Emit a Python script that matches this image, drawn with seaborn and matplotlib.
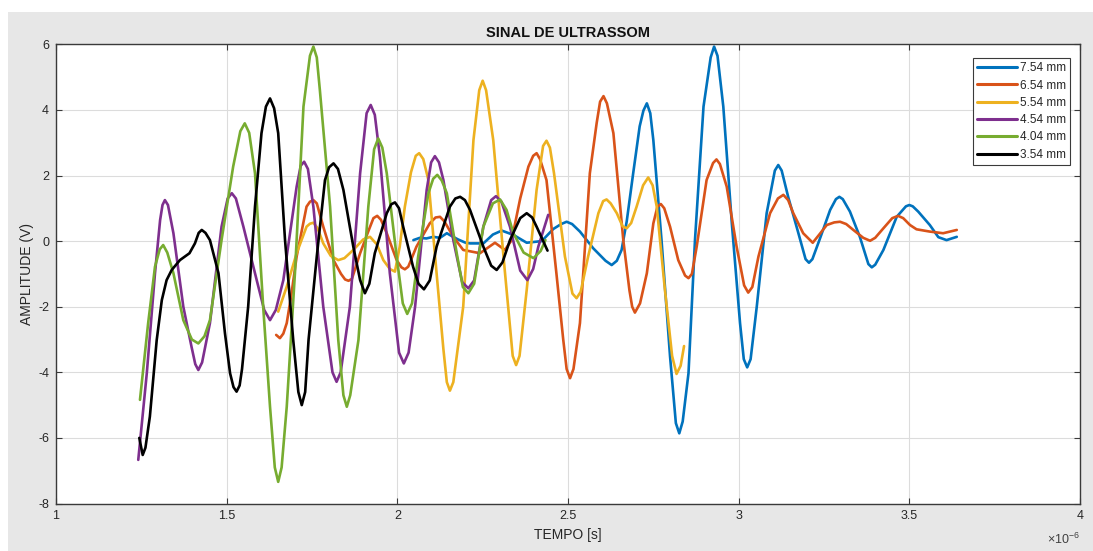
import matplotlib
matplotlib.use("Agg")
import matplotlib.pyplot as plt
from matplotlib.patches import Rectangle
from matplotlib.ticker import FuncFormatter, MultipleLocator
import seaborn as sns
import pandas as pd

# Curvas (tempo em 1e-6 s, amplitude em V)
labels = ["7.54 mm", "6.54 mm", "5.54 mm", "4.54 mm", "4.04 mm", "3.54 mm"]
colors = ["#0072BD", "#D95319", "#EDB120", "#7E2F8E", "#77AC30", "#000000"]

t_754 = [2.047, 2.066, 2.085, 2.105, 2.125, 2.145, 2.160, 2.178, 2.200, 2.213, 2.252, 2.280,
         2.306, 2.340, 2.379, 2.423, 2.457, 2.480, 2.496, 2.512, 2.535, 2.574, 2.610, 2.628,
         2.643, 2.657, 2.672, 2.691, 2.710, 2.721, 2.731, 2.741, 2.750, 2.774, 2.799, 2.816,
         2.826, 2.836, 2.853, 2.872, 2.897, 2.918, 2.928, 2.938, 2.955, 2.980, 3.004, 3.015,
         3.025, 3.035, 3.053, 3.082, 3.106, 3.116, 3.126, 3.145, 3.175, 3.196, 3.206, 3.216,
         3.240, 3.268, 3.285, 3.295, 3.305, 3.326, 3.355, 3.380, 3.390, 3.400, 3.424, 3.463,
         3.490, 3.500, 3.510, 3.526, 3.560, 3.585, 3.609, 3.639]
a_754 = [0.03, 0.10, 0.08, 0.13, 0.10, 0.24, 0.15, 0.05, -0.05, -0.07, -0.07, 0.20,
         0.32, 0.19, -0.05, 0.00, 0.37, 0.52, 0.59, 0.52, 0.29, -0.22, -0.60, -0.73,
         -0.60, -0.27, 0.60, 2.07, 3.50, 3.98, 4.20, 3.90, 3.08, 0.03, -3.52, -5.55,
         -5.86, -5.50, -4.03, 0.03, 4.10, 5.60, 5.93, 5.65, 4.10, 0.54, -2.50, -3.60,
         -3.85, -3.60, -2.00, 0.85, 2.15, 2.32, 2.15, 1.35, 0.24, -0.55, -0.66, -0.55,
         0.13, 0.95, 1.28, 1.35, 1.28, 0.90, 0.13, -0.70, -0.80, -0.72, -0.27, 0.74,
         1.06, 1.10, 1.06, 0.90, 0.49, 0.12, 0.03, 0.13]

t_654 = [1.645, 1.656, 1.666, 1.676, 1.690, 1.705, 1.734, 1.744, 1.754, 1.764, 1.783, 1.813,
         1.835, 1.847, 1.857, 1.867, 1.891, 1.915, 1.930, 1.941, 1.952, 1.969, 1.998, 2.012,
         2.022, 2.032, 2.056, 2.095, 2.112, 2.125, 2.138, 2.164, 2.193, 2.242, 2.286, 2.315,
         2.335, 2.360, 2.384, 2.398, 2.408, 2.418, 2.437, 2.466, 2.486, 2.496, 2.506, 2.516,
         2.535, 2.564, 2.584, 2.594, 2.604, 2.614, 2.633, 2.662, 2.680, 2.688, 2.696, 2.711,
         2.731, 2.750, 2.762, 2.772, 2.782, 2.799, 2.823, 2.843, 2.853, 2.863, 2.877, 2.906,
         2.925, 2.935, 2.945, 2.965, 2.994, 3.016, 3.028, 3.040, 3.058, 3.092, 3.115, 3.131,
         3.145, 3.160, 3.189, 3.217, 3.240, 3.258, 3.280, 3.297, 3.315, 3.336, 3.365, 3.385,
         3.400, 3.424, 3.450, 3.467, 3.482, 3.502, 3.521, 3.560, 3.599, 3.639]
a_654 = [-2.86, -2.96, -2.82, -2.50, -1.60, -0.47, 1.05, 1.20, 1.25, 1.15, 0.44, -0.58,
         -1.00, -1.17, -1.21, -1.15, -0.37, 0.30, 0.70, 0.77, 0.65, 0.24, -0.58, -0.80,
         -0.86, -0.78, -0.17, 0.54, 0.72, 0.74, 0.60, 0.13, -0.27, -0.37, -0.05, -0.27,
         0.03, 1.30, 2.27, 2.60, 2.68, 2.50, 1.86, -0.98, -3.00, -3.90, -4.18, -3.90,
         -2.50, 2.07, 3.60, 4.25, 4.42, 4.20, 3.29, 0.03, -1.50, -2.00, -2.18, -1.90,
         -0.98, 0.54, 1.05, 1.13, 1.00, 0.44, -0.58, -1.05, -1.13, -1.00, -0.17, 1.86,
         2.38, 2.49, 2.35, 1.66, -0.17, -1.35, -1.57, -1.40, -0.47, 0.85, 1.30, 1.41,
         1.25, 0.85, 0.24, -0.05, 0.25, 0.49, 0.57, 0.59, 0.52, 0.34, 0.10, 0.01,
         0.10, 0.39, 0.70, 0.77, 0.70, 0.49, 0.36, 0.29, 0.24, 0.34]

t_554 = [1.651, 1.676, 1.705, 1.734, 1.744, 1.754, 1.766, 1.783, 1.805, 1.827, 1.845, 1.871,
         1.900, 1.920, 1.940, 1.959, 1.978, 1.993, 2.007, 2.022, 2.040, 2.054, 2.064, 2.076,
         2.091, 2.115, 2.135, 2.145, 2.154, 2.164, 2.193, 2.223, 2.240, 2.250, 2.260, 2.281,
         2.311, 2.338, 2.348, 2.358, 2.379, 2.408, 2.427, 2.437, 2.447, 2.459, 2.491, 2.513,
         2.525, 2.537, 2.559, 2.589, 2.603, 2.613, 2.625, 2.643, 2.660, 2.672, 2.685, 2.701,
         2.720, 2.735, 2.748, 2.760, 2.784, 2.805, 2.818, 2.830, 2.840]
a_554 = [-2.15, -1.39, -0.37, 0.44, 0.53, 0.56, 0.40, -0.07, -0.45, -0.58, -0.52, -0.27,
         0.05, 0.13, -0.10, -0.58, -0.85, -0.93, -0.17, 1.05, 2.10, 2.60, 2.68, 2.50,
         1.86, -0.98, -3.30, -4.30, -4.56, -4.30, -2.00, 3.08, 4.60, 4.89, 4.60, 3.08,
         -0.47, -3.50, -3.78, -3.50, -1.49, 1.56, 2.90, 3.06, 2.85, 2.07, -0.47, -1.60,
         -1.74, -1.55, -0.47, 0.85, 1.22, 1.27, 1.15, 0.85, 0.45, 0.39, 0.55, 1.05,
         1.70, 1.94, 1.70, 1.05, -1.49, -3.50, -4.05, -3.80, -3.20]

t_454 = [1.241, 1.266, 1.290, 1.305, 1.312, 1.319, 1.328, 1.344, 1.373, 1.397, 1.408, 1.417,
         1.428, 1.451, 1.485, 1.503, 1.515, 1.527, 1.549, 1.588, 1.610, 1.627, 1.644, 1.666,
         1.705, 1.717, 1.727, 1.738, 1.754, 1.783, 1.810, 1.822, 1.834, 1.861, 1.891, 1.910,
         1.922, 1.934, 1.949, 1.978, 2.005, 2.019, 2.033, 2.052, 2.086, 2.099, 2.110, 2.122,
         2.135, 2.164, 2.190, 2.208, 2.225, 2.252, 2.275, 2.289, 2.305, 2.330, 2.360, 2.381,
         2.398, 2.413, 2.442]
a_454 = [-6.67, -4.03, -0.98, 0.64, 1.10, 1.25, 1.10, 0.24, -2.00, -3.22, -3.75, -3.93,
         -3.70, -2.50, 0.44, 1.30, 1.46, 1.30, 0.44, -1.19, -2.10, -2.41, -2.10, -1.19,
         1.66, 2.30, 2.42, 2.20, 1.05, -2.00, -4.00, -4.29, -4.00, -2.00, 2.07, 3.90,
         4.15, 3.85, 2.57, -0.98, -3.40, -3.73, -3.40, -2.00, 1.56, 2.40, 2.59, 2.40,
         1.86, 0.03, -1.25, -1.44, -1.20, 0.44, 1.25, 1.37, 1.20, 0.44, -0.90, -1.19,
         -0.85, -0.17, 0.80]

t_404 = [1.246, 1.270, 1.290, 1.304, 1.314, 1.326, 1.344, 1.373, 1.398, 1.417, 1.435, 1.451,
         1.485, 1.519, 1.540, 1.553, 1.566, 1.583, 1.607, 1.627, 1.641, 1.651, 1.661, 1.676,
         1.700, 1.725, 1.744, 1.754, 1.764, 1.773, 1.803, 1.827, 1.842, 1.852, 1.862, 1.886,
         1.915, 1.932, 1.944, 1.956, 1.969, 1.998, 2.016, 2.029, 2.043, 2.061, 2.091, 2.105,
         2.117, 2.130, 2.145, 2.174, 2.192, 2.208, 2.225, 2.252, 2.280, 2.301, 2.320, 2.340,
         2.370, 2.399, 2.420, 2.434]
a_404 = [-4.84, -2.50, -0.78, -0.25, -0.12, -0.35, -0.98, -2.41, -3.00, -3.12, -2.90, -2.41,
         0.03, 2.27, 3.35, 3.59, 3.30, 2.07, -2.00, -5.05, -6.90, -7.34, -6.90, -5.05,
         -0.98, 4.10, 5.65, 5.93, 5.60, 4.61, 1.05, -3.02, -4.70, -5.05, -4.70, -3.02,
         1.05, 2.80, 3.13, 2.85, 2.07, -0.47, -1.90, -2.22, -1.90, -0.47, 1.46, 1.90,
         2.02, 1.85, 1.46, -0.37, -1.40, -1.59, -1.30, 0.44, 1.15, 1.27, 0.95, 0.24,
         -0.35, -0.52, -0.30, 0.03]

t_354 = [1.244, 1.254, 1.262, 1.275, 1.295, 1.310, 1.324, 1.339, 1.363, 1.391, 1.407, 1.418,
         1.427, 1.438, 1.451, 1.476, 1.495, 1.510, 1.520, 1.529, 1.538, 1.545, 1.563, 1.583,
         1.602, 1.615, 1.627, 1.639, 1.651, 1.671, 1.695, 1.710, 1.720, 1.730, 1.740, 1.764,
         1.788, 1.800, 1.813, 1.826, 1.842, 1.871, 1.891, 1.905, 1.918, 1.934, 1.969, 1.982,
         1.993, 2.005, 2.017, 2.046, 2.062, 2.078, 2.095, 2.115, 2.154, 2.170, 2.184, 2.198,
         2.213, 2.252, 2.275, 2.291, 2.308, 2.330, 2.360, 2.379, 2.395, 2.408, 2.440]
a_354 = [-6.00, -6.52, -6.30, -5.35, -3.02, -1.80, -1.19, -0.88, -0.58, -0.37, -0.07, 0.25,
         0.34, 0.25, 0.03, -0.98, -2.81, -4.03, -4.45, -4.59, -4.40, -3.90, -2.00, 1.05,
         3.29, 4.10, 4.35, 4.05, 3.29, 0.03, -3.02, -4.60, -5.00, -4.60, -3.00, -0.47,
         1.86, 2.25, 2.37, 2.20, 1.56, -0.17, -1.19, -1.59, -1.30, -0.37, 0.85, 1.12,
         1.18, 1.00, 0.44, -0.78, -1.30, -1.47, -1.20, -0.17, 1.05, 1.30, 1.35, 1.25,
         0.95, -0.17, -0.75, -0.88, -0.65, 0.03, 0.70, 0.85, 0.72, 0.44, -0.29]

series = {
    "7.54 mm": (t_754, a_754),
    "6.54 mm": (t_654, a_654),
    "5.54 mm": (t_554, a_554),
    "4.54 mm": (t_454, a_454),
    "4.04 mm": (t_404, a_404),
    "3.54 mm": (t_354, a_354),
}

frames = []
for name, (t, a) in series.items():
    frames.append(pd.DataFrame({"tempo": t, "amplitude": a, "curva": name}))
df = pd.concat(frames, ignore_index=True)

sns.set_theme(style="whitegrid")
plt.rcParams["font.family"] = ["Liberation Sans", "DejaVu Sans"]
plt.rcParams["mathtext.default"] = "regular"

fig = plt.figure(figsize=(10.93, 5.51), dpi=100)
fig.patch.set_facecolor("white")
fig.add_artist(Rectangle((8 / 1093, 0), 1, 1 - 12 / 551, transform=fig.transFigure,
                         facecolor="#e7e7e7", edgecolor="none", zorder=-10))

ax = fig.add_axes([56 / 1093, 47.5 / 551, 1024 / 1093, 459.2 / 551])
ax.set_facecolor("white")

sns.lineplot(data=df, x="tempo", y="amplitude", hue="curva", hue_order=labels,
             palette=colors, sort=False, estimator=None, linewidth=1.9, ax=ax)

ax.set_xlim(1, 4)
ax.set_ylim(-8, 6)
ax.xaxis.set_major_locator(MultipleLocator(0.5))
ax.yaxis.set_major_locator(MultipleLocator(2))
fmt = FuncFormatter(lambda v, p: "%g" % v)
ax.xaxis.set_major_formatter(fmt)
ax.yaxis.set_major_formatter(fmt)

ax.grid(True, color="#dcdcdc", linewidth=0.8)
for s in ax.spines.values():
    s.set_color("#3a3a3a")
    s.set_linewidth(1.0)
ax.tick_params(direction="in", length=4, width=0.8, color="#3a3a3a",
               labelsize=9, labelcolor="#262626", top=True, right=True,
               bottom=True, left=True, pad=5)

ax.set_title("SINAL DE ULTRASSOM", fontsize=10.5, fontweight="bold", pad=5, color="#111111")
ax.set_xlabel("TEMPO [s]", fontsize=10, labelpad=4, color="#262626")
ax.set_ylabel("AMPLITUDE (V)", fontsize=10, labelpad=3, color="#262626")
ax.text(1.0, -0.062, "×10$^{-6}$", transform=ax.transAxes, ha="right", va="top",
        fontsize=9, color="#404040")

handles, hl = ax.get_legend_handles_labels()
leg = ax.legend(handles, hl, loc="upper right", bbox_to_anchor=(0.990, 0.970),
                borderaxespad=0, fontsize=8.5, handlelength=3.4, handletextpad=0.2,
                labelspacing=0.45, borderpad=0.35, fancybox=False, framealpha=1)
leg.get_frame().set_edgecolor("#3a3a3a")
leg.get_frame().set_linewidth(0.8)
for line in leg.get_lines():
    line.set_linewidth(2.2)

fig.savefig("out.png", dpi=100)
